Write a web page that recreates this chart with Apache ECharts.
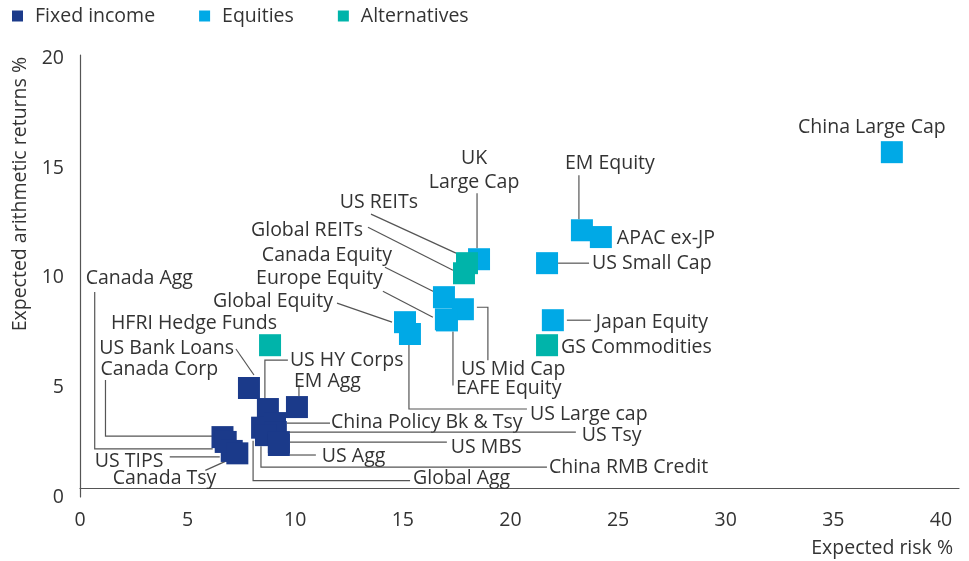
<!DOCTYPE html>
<html>
<head>
<meta charset="utf-8">
<title>Expected risk and return</title>
<script src="https://cdn.jsdelivr.net/npm/echarts@6/dist/echarts.min.js"></script>
<style>
  html, body { margin: 0; padding: 0; background: #fff; }
  #main { width: 969px; height: 561px; }
</style>
</head>
<body>
<div id="main"></div>
<script>
// --- data (expected risk %, expected arithmetic return %) ---
var fixedNames = ['US Bank Loans', 'US HY Corps', 'EM Agg', 'Global Agg', 'China Policy Bk & Tsy',
  'US Tsy', 'China RMB Credit', 'US MBS', 'US Agg', 'Canada Corp', 'Canada Agg', 'US TIPS', 'Canada Tsy'];
var fixedRisk   = [7.85, 8.73, 10.08, 8.46, 9.06, 9.10, 8.64, 9.24, 9.24, 6.62, 6.77, 7.05, 7.31];
var fixedReturn = [4.97, 4.01, 4.10, 3.16, 3.37, 2.96, 2.82, 2.50, 2.37, 2.73, 2.51, 2.10, 1.99];

var equityNames = ['UK Large Cap', 'EM Equity', 'APAC ex-JP', 'US Small Cap', 'Japan Equity', 'China Large Cap',
  'Canada Equity', 'US Mid Cap', 'Europe Equity', 'EAFE Equity', 'Global Equity', 'US Large cap'];
var equityRisk   = [18.54, 23.32, 24.20, 21.70, 21.97, 37.72, 16.91, 17.79, 17.00, 17.05, 15.10, 15.33];
var equityReturn = [10.84, 12.16, 11.85, 10.66, 8.06, 15.72, 9.11, 8.56, 8.10, 8.05, 7.97, 7.43];

var altNames  = ['HFRI Hedge Funds', 'US REITs', 'Global REITs', 'GS Commodities'];
var altRisk   = [8.83, 17.98, 17.84, 21.70];
var altReturn = [6.92, 10.66, 10.20, 6.92];

var xTicks = [0, 5, 10, 15, 20, 25, 30, 35, 40];
var yTicks = [0, 5, 10, 15, 20];

// --- label placement: pixel offsets from the marker centre ---
// label: [dx, dy, align], line: leader polyline points
var labelPlace = {
  'China Large Cap': { label: [-20, -25, 'center'] },
  'UK Large Cap': { text: 'UK\nLarge Cap', label: [-5, -89, 'center'], line: [[-2, -66], [-2, -11]] },
  'EM Equity': { label: [28, -67, 'center'], line: [[-3, -55], [-3, -11]] },
  'APAC ex-JP': { label: [16, 1, 'left'] },
  'US Small Cap': { label: [45, 0, 'left'], line: [[11, 0], [42, 0]] },
  'Japan Equity': { label: [43, 2, 'left'], line: [[14, 0], [38, 0]] },
  'GS Commodities': { label: [14, 2, 'left'] },
  'US REITs': { label: [-49, -61, 'right'], line: [[-96, -49], [-11, -10]] },
  'Global REITs': { label: [-101, -43, 'right'], line: [[-96, -46], [-11, -3]] },
  'Canada Equity': { label: [-52, -42, 'right'], line: [[-59, -30], [-9, -5]] },
  'Europe Equity': { label: [-63, -41, 'right'], line: [[-63, -28], [-13, -2]] },
  'Global Equity': { label: [-72, -21, 'right'], line: [[-68, -19], [-13, 0]] },
  'US Large cap': { label: [120, 80, 'left'], line: [[-1, 11], [-1, 75], [117, 75]] },
  'US Mid Cap': { label: [-2, 60, 'left'], line: [[14, -2], [25, -2], [25, 51]] },
  'EAFE Equity': { label: [9, 68, 'left'], line: [[6, 11], [6, 65]] },
  'HFRI Hedge Funds': { label: [7, -22, 'right'] },
  'US Bank Loans': { label: [-15, -40, 'right'], line: [[-13, -39], [5, -13]] },
  'Canada Corp': { label: [-122, -68, 'left'], line: [[-117, -57], [-117, -1], [-10, -1]] },
  'Canada Agg': { label: [-140, -164, 'left'], line: [[-131, -150], [-131, 7], [-13, 7]] },
  'US TIPS': { label: [-137, 11, 'left'], line: [[-62, 6], [-12, 6]] },
  'Canada Tsy': { label: [-21, 25, 'right'], line: [[-32, 17], [-12, 8]] },
  'US HY Corps': { label: [22, -49, 'left'], line: [[20, -49], [-3, -49], [-3, -11]] },
  'EM Agg': { label: [-3, -26, 'left'], line: [[2, -22], [2, -11]] },
  'China Policy Bk & Tsy': { label: [56, -1, 'left'], line: [[12, 0], [55, 0]] },
  'US Tsy': { label: [306, 3, 'left'], line: [[11, 0], [300, 0]] },
  'US MBS': { label: [172, 5, 'left'], line: [[11, 0], [168, 0]] },
  'US Agg': { label: [43, 11, 'left'], line: [[11, 10], [37, 10]] },
  'China RMB Credit': { label: [283, 32, 'left'], line: [[-5, 11], [-5, 32], [281, 32]] },
  'Global Agg': { label: [151, 51, 'left'], line: [[-9, 13], [-9, 53], [148, 53]] }
};

var FONT = 'Open Sans';
var FS = 19.5;
var TEXT = '#333333';
var AXIS = '#555555';

function toPoints(names, risk, ret) {
  return names.map(function (n, i) { return { name: n, value: [risk[i], ret[i]] }; });
}

var fixedData = toPoints(fixedNames, fixedRisk, fixedReturn);
var equityData = toPoints(equityNames, equityRisk, equityReturn);
var altData = toPoints(altNames, altRisk, altReturn);
var allData = fixedData.concat(equityData, altData);

function renderLabel(params, api) {
  var item = allData[params.dataIndex];
  var spec = labelPlace[item.name];
  if (!spec) return;
  var c = api.coord([api.value(0), api.value(1)]);
  var children = [];
  if (spec.line) {
    children.push({
      type: 'polyline',
      shape: { points: spec.line.map(function (p) { return [c[0] + p[0], c[1] + p[1]]; }) },
      style: { stroke: AXIS, lineWidth: 1.2, fill: null }
    });
  }
  children.push({
    type: 'text',
    style: {
      text: spec.text || item.name,
      x: c[0] + spec.label[0],
      y: c[1] + spec.label[1],
      align: spec.label[2],
      verticalAlign: 'middle',
      fill: TEXT,
      fontSize: FS,
      fontFamily: FONT,
      lineHeight: 23.5
    }
  });
  return { type: 'group', children: children };
}

var myChart = echarts.init(document.getElementById('main'));

var option = {
  animation: false,
  textStyle: { fontFamily: FONT },
  legend: {
    data: ['Fixed income', 'Equities', 'Alternatives'],
    icon: 'rect',
    itemWidth: 11,
    itemHeight: 11,
    itemGap: 44,
    padding: 0,
    left: 12,
    top: 6,
    textStyle: { fontSize: FS, color: TEXT, padding: [0, 0, 0, 7] }
  },
  grid: { left: 80, right: 10, top: 55, bottom: 64 },
  xAxis: {
    type: 'value',
    min: 0,
    max: 40.84,
    interval: 5,
    offset: -9,
    name: 'Expected risk %',
    nameLocation: 'end',
    nameGap: -6,
    nameTextStyle: { fontSize: FS, color: TEXT, align: 'right', verticalAlign: 'top', padding: [50, 0, 0, 0] },
    axisLine: { show: true, onZero: false, lineStyle: { color: AXIS, width: 1.2 } },
    axisTick: { show: false },
    splitLine: { show: false },
    axisLabel: {
      fontSize: FS, color: TEXT, margin: 22,
      formatter: function (v) { return xTicks.indexOf(v) >= 0 ? String(v) : ''; }
    }
  },
  yAxis: {
    type: 'value',
    min: 0,
    max: 20.15,
    interval: 5,
    name: 'Expected arithmetic returns %',
    nameLocation: 'end',
    nameGap: -2,
    nameRotate: 90,
    nameTextStyle: { fontSize: FS, color: TEXT, align: 'right', verticalAlign: 'bottom', padding: [0, 0, 50, 0] },
    axisLine: { show: true, lineStyle: { color: AXIS, width: 1.2 } },
    axisTick: { show: false },
    splitLine: { show: false },
    axisLabel: {
      fontSize: FS, color: TEXT, margin: 16,
      formatter: function (v) { return yTicks.indexOf(v) >= 0 ? String(v) : ''; }
    }
  },
  series: [
    {
      type: 'custom',
      silent: true,
      data: allData,
      renderItem: renderLabel
    },
    {
      name: 'Fixed income', type: 'scatter', symbol: 'rect', symbolSize: 22,
      itemStyle: { color: '#1b3a8a', opacity: 1 }, data: fixedData
    },
    {
      name: 'Equities', type: 'scatter', symbol: 'rect', symbolSize: 22,
      itemStyle: { color: '#00a9e6', opacity: 1 }, data: equityData
    },
    {
      name: 'Alternatives', type: 'scatter', symbol: 'rect', symbolSize: 22,
      itemStyle: { color: '#00b4aa', opacity: 1 }, data: altData
    }
  ]
};

myChart.setOption(option);
</script>
</body>
</html>
